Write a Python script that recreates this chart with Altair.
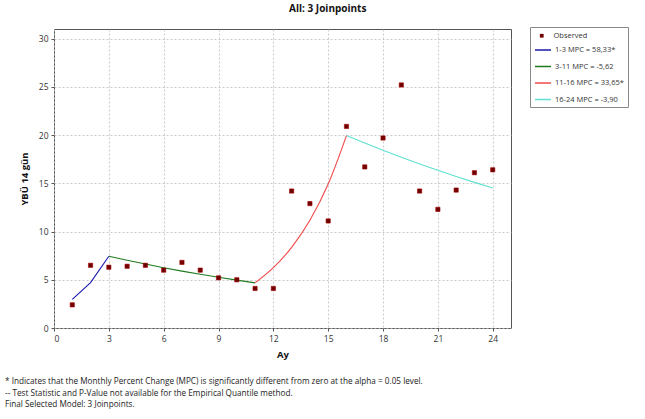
import altair as alt
import pandas as pd

# Observed values
obs_x = list(range(1, 25))
obs_y = [2.4, 6.5, 6.3, 6.4, 6.5, 6.0, 6.8, 6.0, 5.2, 5.0, 4.1, 4.1,
         14.2, 12.9, 11.1, 20.9, 16.7, 19.7, 25.2, 14.2, 12.3, 14.3, 16.1, 16.4]

# Fitted joinpoint segments
seg_names = ["1-3 MPC  = 58,33*", "3-11 MPC  = -5,62", "11-16 MPC = 33,65*", "16-24 MPC = -3,90"]
seg1_x = [1, 2, 3]
seg1_y = [2.97, 4.70, 7.44]
seg2_x = [3, 4, 5, 6, 7, 8, 9, 10, 11]
seg2_y = [7.44, 7.02, 6.63, 6.25, 5.90, 5.57, 5.26, 4.96, 4.68]
seg3_x = [11, 12, 13, 14, 15, 16]
seg3_y = [4.68, 6.25, 8.36, 11.17, 14.93, 19.95]
seg4_x = [16, 17, 18, 19, 20, 21, 22, 23, 24]
seg4_y = [19.95, 19.17, 18.42, 17.70, 17.01, 16.35, 15.71, 15.10, 14.51]

seg_colors = ["#1a1ab0", "#1f7a1f", "#f04848", "#5fe0d2"]

foot_lines = [
    "* Indicates that the Monthly Percent Change (MPC) is significantly different from zero at the alpha = 0.05 level.",
    "-- Test Statistic and P-Value not available for the Empirical Quantile method.",
    "Final Selected Model: 3 Joinpoints.",
]

obs_df = pd.DataFrame({"x": obs_x, "y": obs_y, "series": "Observed"})
line_df = pd.concat([
    pd.DataFrame({"x": seg1_x, "y": seg1_y, "series": seg_names[0]}),
    pd.DataFrame({"x": seg2_x, "y": seg2_y, "series": seg_names[1]}),
    pd.DataFrame({"x": seg3_x, "y": seg3_y, "series": seg_names[2]}),
    pd.DataFrame({"x": seg4_x, "y": seg4_y, "series": seg_names[3]}),
], ignore_index=True)
foot_df = pd.DataFrame({"line": foot_lines, "i": [0, 1, 2]})

FONT = "Open Sans"
W, H = 457, 299

line_legend = alt.Legend(
    title="\u00a0", titleFontSize=7, titlePadding=3, titleFont=FONT,
    orient="none", legendX=476, legendY=-2,
    strokeColor="#8a8a8a", fillColor="white", padding=4,
    labelFont=FONT, labelFontSize=7.5, labelColor="#333", labelOffset=3,
    rowPadding=3.5, symbolType="stroke", symbolSize=256, symbolStrokeWidth=1.5,
    labelLimit=200, zindex=0,
)
obs_legend = alt.Legend(
    title=None, orient="none", legendX=484, legendY=3, padding=0,
    labelFont=FONT, labelFontSize=7.5, labelColor="#333", labelOffset=8,
    symbolType="square", symbolSize=14, symbolFillColor="#7a0000",
    symbolStrokeColor="#a00000", symbolStrokeWidth=0.5, zindex=2,
)

x_enc = alt.X("x:Q", scale=alt.Scale(domain=[0, 25], nice=False),
              axis=alt.Axis(values=list(range(0, 25, 3)), title="Ay", grid=True))
y_enc = alt.Y("y:Q", scale=alt.Scale(domain=[0, 31], nice=False),
              axis=alt.Axis(values=list(range(0, 31, 5)), title="YBÜ 14 gün", grid=True))
color_enc = alt.Color("series:N", scale=alt.Scale(domain=seg_names, range=seg_colors),
                      legend=line_legend)

base_lines = alt.Chart(line_df)
straight = base_lines.transform_filter(
    alt.datum.series != seg_names[2]
).mark_line(strokeWidth=1.1).encode(x=x_enc, y=y_enc, color=color_enc, detail="series:N")
curved = base_lines.transform_filter(
    alt.datum.series == seg_names[2]
).mark_line(strokeWidth=1.1, interpolate="monotone").encode(
    x="x:Q", y="y:Q", color=color_enc, detail="series:N")

points = alt.Chart(obs_df).mark_point(filled=True, size=18, opacity=1, fill="#700000",
                                      stroke="#a00000", strokeWidth=0.6).encode(
    x="x:Q", y="y:Q",
    shape=alt.Shape("series:N", scale=alt.Scale(domain=["Observed"], range=["square"]),
                    legend=obs_legend),
)
foot = alt.Chart(foot_df).mark_text(align="left", baseline="middle", font=FONT,
                                    fontSize=8.2, color="#222").encode(
    x=alt.value(-49),
    y=alt.Y("i:Q", scale=alt.Scale(domain=[0, 2], range=[353, 376]), axis=None),
    text="line:N",
)

main = alt.layer(straight, curved, points)

chart = alt.layer(main, foot).resolve_scale(y="independent").properties(
    width=W, height=H,
    padding={"left": 5, "top": 3, "right": 5, "bottom": 5},
    title=alt.TitleParams("All: 3 Joinpoints", font=FONT, fontSize=10, fontWeight="bold",
                          color="#111", anchor="middle", frame="bounds", offset=13, dx=11),
).configure_view(stroke="#555", strokeWidth=1).configure_axis(
    labelFont=FONT, labelFontSize=8.5, labelColor="#333", titleFont=FONT,
    titleFontSize=9.5, titleFontWeight="bold", titleColor="#111",
    gridColor="#bdbdbd", gridDash=[2, 2], gridWidth=0.8,
    tickColor="#555", tickSize=3, domain=False, labelPadding=3,
).configure_axisX(titlePadding=7).configure_axisY(titlePadding=9)

chart.save("out.html", embed_options={"renderer": "svg", "actions": False})
